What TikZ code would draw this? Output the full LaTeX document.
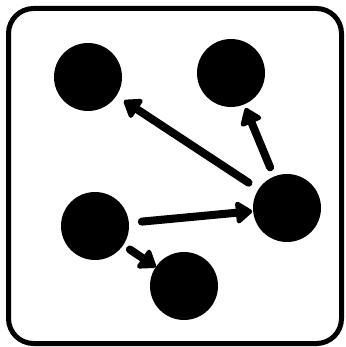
\documentclass[tikz,border=0pt]{standalone}
\usetikzlibrary{arrows.meta}
\begin{document}
\begin{tikzpicture}[x=1pt,y=-1pt,
  dot/.style={circle,fill=black,draw=none,minimum size=68pt,inner sep=0pt,outer sep=0pt},
  link/.style={line width=8pt,line cap=round,line join=round,
    -{Triangle[length=18pt,width=25pt,round]}},
  frame/.style={line width=5pt,rounded corners=25pt}]
\useasboundingbox (0,0) rectangle (345,347);
\draw[frame] (8.5,8.5) rectangle (341.5,343.5);
\node[dot] (A) at (88,77) {};
\node[dot] (B) at (231,73) {};
\node[dot] (C) at (287,208) {};
\node[dot] (D) at (95,226) {};
\node[dot] (E) at (184,286) {};
\draw[link,shorten <=12pt,shorten >=9pt] (C) -- (A);
\draw[link,shorten <=10pt,shorten >=4pt] (C) -- (B);
\draw[link,shorten <=13pt,shorten >=1pt] (D) -- (C);
\draw[link,shorten <=8pt,shorten >=0pt] (D) -- (E);
\end{tikzpicture}
\end{document}
